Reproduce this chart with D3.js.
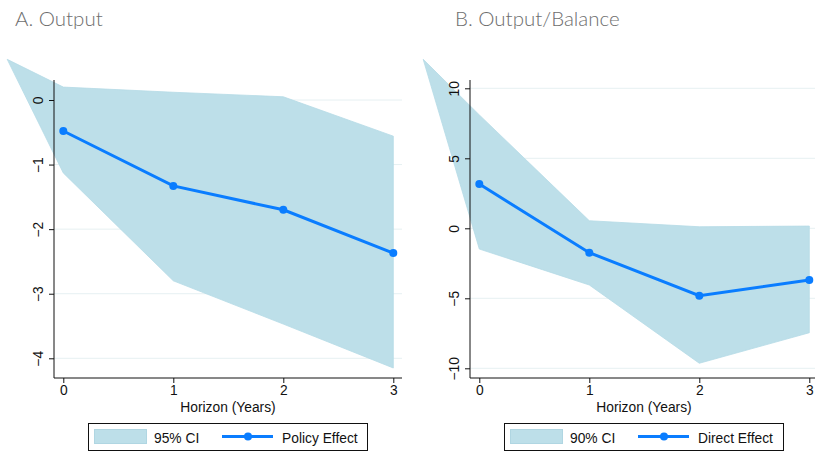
<!DOCTYPE html>
<html>
<head>
<meta charset="utf-8">
<script src="https://cdn.jsdelivr.net/npm/d3@7"></script>
<style>
  body { margin: 0; background: #fff; }
  svg { display: block; }
  .tick text, .lbl { font-family: "Liberation Sans", Arial, sans-serif; font-size: 13.8px; fill: #111; }
  .title { font-family: Lato, "Noto Sans", sans-serif; font-weight: 300; font-size: 20.5px; fill: #6e6e6e; }
</style>
</head>
<body>
<svg id="chart" width="815" height="453"></svg>
<script>
// horizons (years); the first entry is the stray left point of the band
const horizons = [0, 1, 2, 3];
const bandX = [-0.51, 0, 1, 2, 3];

// Panel A: output
const outputEffect = [-0.48, -1.33, -1.70, -2.37];
const outputHi = [0.63, 0.20, 0.12, 0.05, -0.56];
const outputLo = [0.63, -1.13, -2.80, -3.47, -4.15];
const outputTicks = [0, -1, -2, -3, -4];

// Panel B: output/balance
const balanceEffect = [3.16, -1.74, -4.81, -3.70];
const balanceHi = [12.07, 8.10, 0.54, 0.11, 0.16];
const balanceLo = [12.07, -1.48, -4.05, -9.64, -7.46];
const balanceTicks = [10, 5, 0, -5, -10];

const BAND = "#bddfe9";
const LINE = "#0a7dff";
const GRID = "#e6f0f2";

const svg = d3.select("#chart");

function panel(opts) {
  const g = svg.append("g").attr("transform", `translate(${opts.dx},0)`);
  const frame = { left: 54, right: opts.right, top: 80, bottom: 378 };

  const x = d3.scaleLinear().domain([0, 3]).range([63.3, 393.3]);
  const y = d3.scaleLinear().domain(opts.yDomain).range(opts.yRange);

  // gridlines
  g.append("g")
    .selectAll("line")
    .data(opts.ticks)
    .join("line")
    .attr("x1", frame.left)
    .attr("x2", frame.right)
    .attr("y1", (d) => y(d))
    .attr("y2", (d) => y(d))
    .attr("stroke", GRID)
    .attr("stroke-width", 1);

  // confidence band (not clipped, as in the original)
  const band = bandX.map((v, i) => ({ x: v, lo: opts.lo[i], hi: opts.hi[i] }));
  g.append("path")
    .datum(band)
    .attr("fill", BAND)
    .attr("stroke", "#b5dbe6")
    .attr("stroke-width", 0.8)
    .attr(
      "d",
      d3
        .area()
        .x((d) => x(d.x))
        .y0((d) => y(d.lo))
        .y1((d) => y(d.hi)),
    );

  // axes
  const yAxis = g
    .append("g")
    .attr("transform", `translate(${frame.left},0)`)
    .call(d3.axisLeft(y).tickValues(opts.ticks).tickSize(5).tickFormat(d3.format("d")));
  yAxis.select(".domain").remove();
  yAxis.selectAll(".tick line").attr("stroke", "#111");
  yAxis
    .selectAll(".tick text")
    .attr("transform", "rotate(-90)")
    .attr("x", 0)
    .attr("y", -11)
    .attr("dy", 0)
    .attr("text-anchor", "middle");

  const xAxis = g
    .append("g")
    .attr("transform", `translate(0,${frame.bottom})`)
    .call(d3.axisBottom(x).tickValues(horizons).tickSize(5).tickFormat(d3.format("d")));
  xAxis.select(".domain").remove();
  xAxis.selectAll(".tick line").attr("stroke", "#111");
  xAxis.selectAll(".tick text").attr("y", 7).attr("dy", "0.71em");

  g.append("path")
    .attr("d", `M${frame.left},${frame.top}V${frame.bottom}H${frame.right}`)
    .attr("fill", "none")
    .attr("stroke", "#111")
    .attr("stroke-width", 1);

  g.append("text")
    .attr("class", "lbl")
    .attr("x", (frame.left + 402) / 2)
    .attr("y", 412)
    .attr("text-anchor", "middle")
    .text("Horizon (Years)");

  // effect line
  const pts = horizons.map((h, i) => ({ x: h, v: opts.effect[i] }));
  g.append("path")
    .datum(pts)
    .attr("fill", "none")
    .attr("stroke", LINE)
    .attr("stroke-width", 3)
    .attr("d", d3.line().x((d) => x(d.x)).y((d) => y(d.v)));
  g.append("g")
    .selectAll("circle")
    .data(pts)
    .join("circle")
    .attr("cx", (d) => x(d.x))
    .attr("cy", (d) => y(d.v))
    .attr("r", 4)
    .attr("fill", LINE);

  // legend
  const lg = g.append("g");
  lg.append("rect")
    .attr("x", 88.5).attr("y", 423.5).attr("width", 279).attr("height", 27)
    .attr("fill", "#fff").attr("stroke", "#111");
  lg.append("rect")
    .attr("x", 94.5).attr("y", 429.5).attr("width", 52).attr("height", 14)
    .attr("fill", BAND).attr("stroke", "#b0d6e2");
  lg.append("text").attr("class", "lbl").attr("x", 154).attr("y", 443).text(opts.ciLabel);
  lg.append("line")
    .attr("x1", 222).attr("x2", 273).attr("y1", 436.5).attr("y2", 436.5)
    .attr("stroke", LINE).attr("stroke-width", 3);
  lg.append("circle").attr("cx", 248).attr("cy", 436.5).attr("r", 4).attr("fill", LINE);
  lg.append("text").attr("class", "lbl").attr("x", 282).attr("y", 443).text(opts.effectLabel);

  svg.append("text")
    .attr("class", "title")
    .attr("x", opts.titleX)
    .attr("y", 26)
    .text(opts.title);
}

panel({
  dx: 0,
  right: 402,
  yDomain: [0, -4],
  yRange: [100, 358.3],
  ticks: outputTicks,
  effect: outputEffect,
  hi: outputHi,
  lo: outputLo,
  ciLabel: "95% CI",
  effectLabel: "Policy Effect",
  title: "A. Output",
  titleX: 15,
});

panel({
  dx: 416,
  right: 420,
  yDomain: [10, -10],
  yRange: [88.3, 368.3],
  ticks: balanceTicks,
  effect: balanceEffect,
  hi: balanceHi,
  lo: balanceLo,
  ciLabel: "90% CI",
  effectLabel: "Direct Effect",
  title: "B. Output/Balance",
  titleX: 455,
});
</script>
</body>
</html>
